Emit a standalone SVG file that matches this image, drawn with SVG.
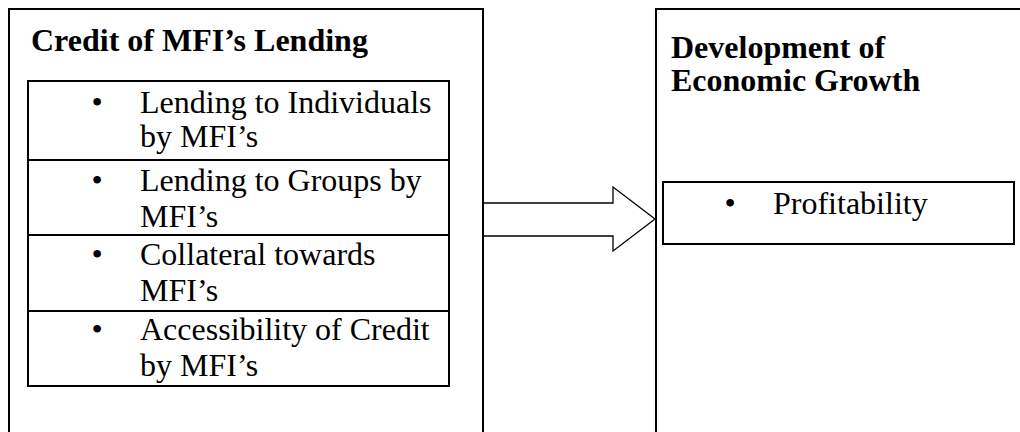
<svg xmlns="http://www.w3.org/2000/svg" width="1020" height="432" viewBox="0 0 1020 432">
<style>
.box{fill:none;stroke:#000;stroke-width:2}
.t{font-family:"Liberation Serif","Times New Roman",serif;font-size:32px;fill:#000}
.b{font-weight:bold}
.bul{text-anchor:middle}
.arrow{fill:#fff;stroke:#000;stroke-width:1.3;stroke-linejoin:miter}
</style>
<rect width="1020" height="432" fill="#fff"/>
<g id="connectors">
<polyline class="arrow" points="483,203 613,203 613,187 655,219 613,251 613,236 483,236"/>
</g>
<g id="credit-node">
<rect class="box" x="9" y="9" width="474" height="440"/>
<text class="t b" x="31" y="51">Credit of MFI’s Lending</text>
<g id="credit-list">
<rect class="box" x="28" y="81" width="421" height="305"/>
<line class="box" x1="28" y1="160" x2="449" y2="160"/>
<line class="box" x1="28" y1="235" x2="449" y2="235"/>
<line class="box" x1="28" y1="311" x2="449" y2="311"/>
</g>
<g id="item-individuals">
<text class="t bul" x="97" y="113">•</text>
<text class="t" x="140" y="113">Lending to Individuals</text>
<text class="t" x="140" y="147">by MFI’s</text>
</g>
<g id="item-groups">
<text class="t bul" x="97" y="191">•</text>
<text class="t" x="140" y="191">Lending to Groups by</text>
<text class="t" x="140" y="227">MFI’s</text>
</g>
<g id="item-collateral">
<text class="t bul" x="97" y="265">•</text>
<text class="t" x="140" y="265">Collateral towards</text>
<text class="t" x="140" y="301">MFI’s</text>
</g>
<g id="item-access">
<text class="t bul" x="97" y="340">•</text>
<text class="t" x="140" y="340">Accessibility of Credit</text>
<text class="t" x="140" y="376">by MFI’s</text>
</g>
</g>
<g id="growth-node">
<rect class="box" x="656" y="9" width="380" height="440"/>
<text class="t b" x="671" y="58">Development of</text>
<text class="t b" x="671" y="91">Economic Growth</text>
<g id="item-profitability">
<rect class="box" x="663" y="182" width="351" height="62"/>
<text class="t bul" x="730" y="214">•</text>
<text class="t" x="773" y="214">Profitability</text>
</g>
</g>
</svg>
